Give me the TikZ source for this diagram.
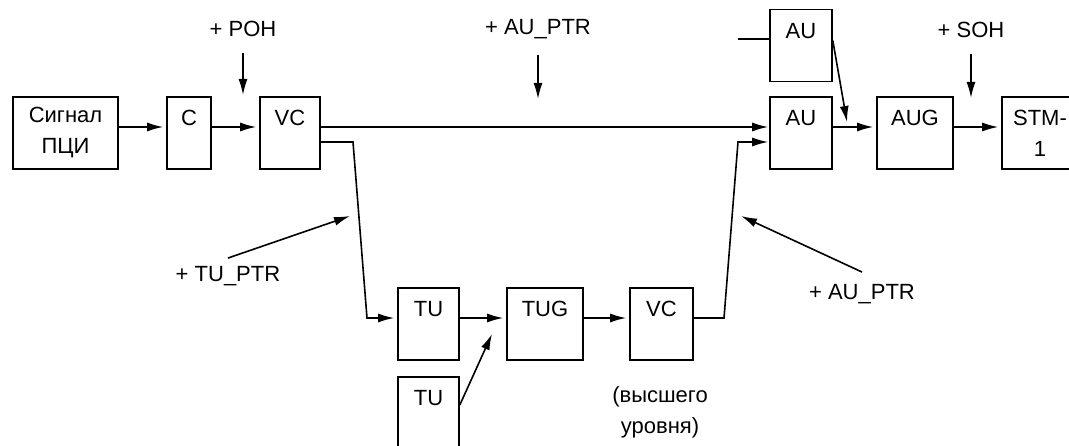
\documentclass[tikz,border=0pt]{standalone}
\usepackage{fontspec}
\setmainfont{Liberation Sans}
\usetikzlibrary{arrows.meta,positioning,calc}
\tikzset{
  blk/.style={draw, line width=1.6pt, minimum width=#1, inner xsep=0pt,
              inner ysep=0pt, text height=29pt, text depth=43pt},
  blktwo/.style={draw, line width=1.6pt, minimum width=#1, minimum height=72pt,
                 inner sep=0pt, align=center},
  lbl/.style={inner sep=0pt, align=center},
  flow/.style={-{Latex[length=16pt,width=9pt]}, line width=1.6pt, shorten >=3pt},
  feed/.style={-{Latex[length=16pt,width=9pt]}, line width=1.6pt},
  wire/.style={line width=1.6pt},
}
\begin{document}
\begin{tikzpicture}[x=1pt, y=-1pt, font=\fontsize{22}{31}\selectfont]
  \useasboundingbox (0,0) rectangle (1069,446);
  % upper row
  \node[blktwo=105pt] (sig) at (65.5,133) {Сигнал\\ПЦИ};
  \node[blk=44pt] (c) at (189,133) {C};
  \node[blk=60pt] (vc) at (290,133) {VC};
  \node[blk=62pt] (auin) at (801,45.5) {AU};
  \node[blk=62pt] (au) at (801,133) {AU};
  \node[blk=76pt] (aug) at (915,133) {AUG};
  \node[blktwo=76pt] (stm) at (1040,133) {STM-\\1};
  % lower row
  \node[blk=61pt] (tu) at (428.5,324) {TU};
  \node[blk=76pt] (tug) at (545,324) {TUG};
  \node[blk=63pt] (vch) at (661.5,324) {VC};
  \node[blk=61pt] (tuin) at (428.5,413) {TU};
  \node[lbl] (high) at (660,412) {(высшего\\уровня)};
  % overhead labels
  \node[lbl] (poh) at (243,29) {+ POH};
  \node[lbl] (auptr) at (538,29) {+ AU\_PTR};
  \node[lbl] (soh) at (971,30) {+ SOH};
  \node[lbl] (tuptr) at (228,276) {+ TU\_PTR};
  \node[lbl] (auptrb) at (862,294) {+ AU\_PTR};
  % bends and free ends
  \coordinate (vcout) at (353,142);
  \coordinate (tuin-bend) at (367,318);
  \coordinate (vchout) at (724,318);
  \coordinate (auin-bend) at (738,142);
  \coordinate (auin-src) at (738,39);
  \coordinate (merge) at (847,122);
  \coordinate (tumerge) at (492,334);
  \coordinate (tuptr-tip) at (350,216);
  \coordinate (auptr-tip) at (741,216);
  % main path
  \draw[flow] ([yshift=6pt]sig.east) -- ([yshift=6pt]c.west);
  \draw[flow] ([yshift=6pt]c.east) -- ([yshift=6pt]vc.west);
  \draw[flow, shorten >=1pt] ([yshift=6pt]vc.east) -- ([yshift=6pt]au.west);
  \draw[flow] ([yshift=-9pt]vc.east) -- (vcout) -- (tuin-bend) -- ([yshift=6pt]tu.west);
  \draw[flow] ([yshift=6pt]tu.east) -- ([yshift=6pt]tug.west);
  \draw[flow] ([yshift=6pt]tug.east) -- ([yshift=6pt]vch.west);
  \draw[flow, shorten >=1pt] ([yshift=6pt]vch.east) -- (vchout) -- (auin-bend) -- ([yshift=-9pt]au.west);
  \draw[flow] ([yshift=6pt]au.east) -- ([yshift=6pt]aug.west);
  \draw[flow] ([yshift=6pt]aug.east) -- ([yshift=6pt]stm.west);
  \draw[wire] (auin-src) -- ([yshift=6.5pt]auin.west);
  \draw[feed] ([yshift=5pt]auin.east) -- (merge);
  \draw[feed] ([yshift=8pt]tuin.east) -- (tumerge);
  % overhead inputs
  \draw[feed] ([yshift=-16pt]poh.south) -- ++(0,42);
  \draw[feed] ([yshift=-16pt]auptr.south) -- ++(0,44);
  \draw[feed] ([yshift=-16pt]soh.south) -- ++(0,44);
  \draw[feed] ([yshift=8pt]tuptr.north) -- (tuptr-tip);
  \draw[feed] ([yshift=12pt]auptrb.north) -- (auptr-tip);
\end{tikzpicture}
\end{document}
